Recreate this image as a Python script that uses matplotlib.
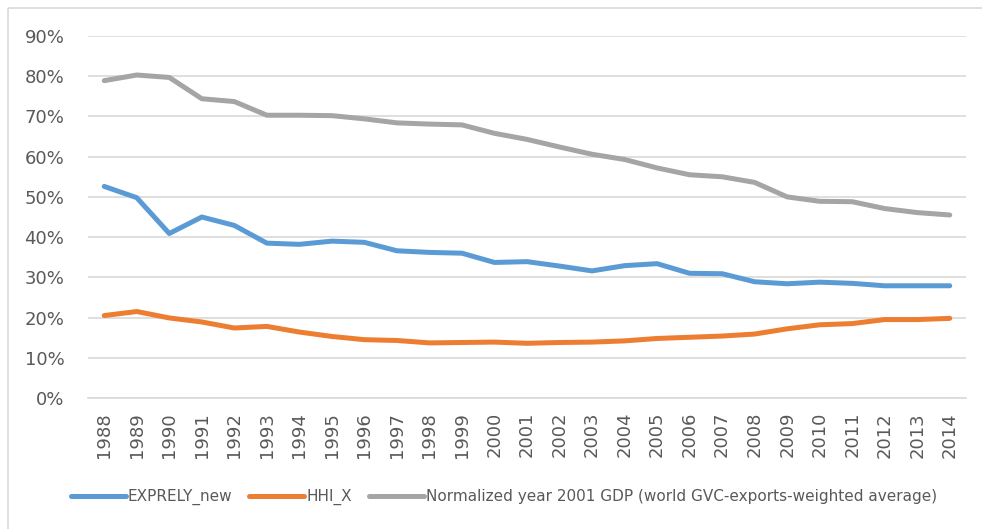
import matplotlib.pyplot as plt
from matplotlib.lines import Line2D

years = [str(y) for y in range(1988, 2015)]

exprely_new = [52.6, 49.8, 40.9, 45.0, 42.9, 38.5, 38.2, 39.0, 38.7, 36.6, 36.2, 36.0, 33.7, 33.9,
               32.8, 31.6, 32.9, 33.4, 31.0, 30.9, 28.9, 28.4, 28.8, 28.5, 27.9, 27.9, 27.9]
hhi_x = [20.5, 21.5, 19.9, 18.9, 17.4, 17.8, 16.4, 15.3, 14.5, 14.3, 13.7, 13.8, 13.9, 13.6,
         13.8, 13.9, 14.2, 14.8, 15.1, 15.4, 15.9, 17.2, 18.2, 18.5, 19.5, 19.5, 19.8]
gdp_norm = [78.9, 80.3, 79.7, 74.4, 73.7, 70.3, 70.3, 70.2, 69.4, 68.4, 68.1, 67.9, 65.8, 64.3,
            62.4, 60.6, 59.3, 57.2, 55.5, 55.0, 53.6, 50.0, 48.9, 48.8, 47.1, 46.1, 45.5]

series_names = ["EXPRELY_new", "HHI_X", "Normalized year 2001 GDP (world GVC-exports-weighted average)"]
colors = ["#5B9BD5", "#ED7D31", "#A5A5A5"]
y_ticks = list(range(0, 91, 10))

fig = plt.figure(figsize=(9.82, 5.29), dpi=100)
ax = fig.add_axes([88 / 982, 1 - 398 / 529, 878 / 982, 362 / 529])

# chart frame: left and top edges only (the rest is cropped away)
fx, fy = 7.5 / 982, 1 - 7.5 / 529
fig.add_artist(Line2D([fx, fx], [0.0, fy], transform=fig.transFigure,
                      color="#D9D9D9", linewidth=1.2, solid_capstyle="butt"))
fig.add_artist(Line2D([fx, 1.0], [fy, fy], transform=fig.transFigure,
                      color="#D9D9D9", linewidth=1.2, solid_capstyle="butt"))

x = list(range(len(years)))
for vals, name, c in zip([exprely_new, hhi_x, gdp_norm], series_names, colors):
    ax.plot(x, vals, color=c, linewidth=3.6, solid_capstyle="round", solid_joinstyle="round", label=name)

ax.set_xlim(-0.5, len(years) - 0.5)
ax.set_ylim(0, 90)
ax.set_yticks(y_ticks)
ax.set_yticklabels([f"{v}%" for v in y_ticks], fontsize=13, color="#595959")
ax.set_xticks(x)
ax.set_xticklabels(years, rotation=90, fontsize=13, color="#595959")
ax.tick_params(axis="y", length=0, pad=17)
ax.tick_params(axis="x", length=0, pad=10)
ax.grid(axis="y", color="#D9D9D9", linewidth=1.2)
ax.set_axisbelow(True)
for s in ["top", "right", "left"]:
    ax.spines[s].set_visible(False)
ax.spines["bottom"].set_color("#D9D9D9")
ax.spines["bottom"].set_linewidth(1.2)

fig.legend(loc="center", bbox_to_anchor=(504 / 982, 1 - 497 / 529), ncol=3, frameon=False,
           prop={"size": 11}, handlelength=3.6, handletextpad=0.15, columnspacing=1.1,
           labelcolor="#595959")

fig.savefig("out.png", dpi=100)
